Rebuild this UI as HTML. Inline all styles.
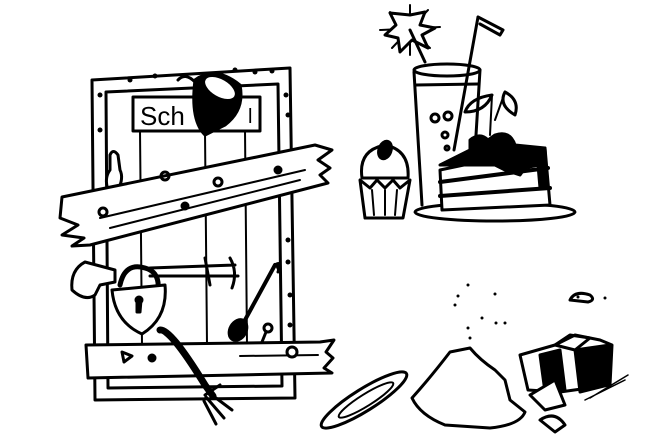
<!DOCTYPE html>
<html><head><meta charset="utf-8"><style>
html,body{margin:0;padding:0;background:#fff;width:660px;height:439px;overflow:hidden}
svg{display:block}
text{font-family:"Liberation Sans",sans-serif}
</style></head><body>
<svg width="660" height="439" viewBox="0 0 660 439" xmlns="http://www.w3.org/2000/svg" fill="none" stroke="#000" stroke-width="3" stroke-linejoin="round" stroke-linecap="round">
<!-- door frame -->
<path d="M92 80 L290 68 L295 398 L95 400 Z" fill="#fff"/>
<path d="M106 92 L278 84 L282 386 L108 388 Z"/>
<g fill="#000" stroke="none">
<circle cx="100" cy="95" r="2.5"/><circle cx="130" cy="80" r="2.5"/><circle cx="155" cy="76" r="2.5"/><circle cx="235" cy="70" r="2.5"/><circle cx="255" cy="72" r="2.5"/><circle cx="272" cy="71" r="2.5"/><circle cx="286" cy="95" r="2.5"/><circle cx="288" cy="115" r="2.5"/><circle cx="100" cy="130" r="2.5"/><circle cx="288" cy="240" r="2.5"/><circle cx="288" cy="262" r="2.5"/><circle cx="290" cy="295" r="2.5"/><circle cx="290" cy="325" r="2.5"/>
</g>
<path d="M140 130 L142 345 M205 132 L207 345 M245 130 L247 345" stroke-width="2"/>
<!-- sign -->
<rect x="133" y="97" width="127" height="34" fill="#fff"/>
<text x="140" y="125" font-size="26" fill="#000" stroke="none">Sch</text>
<text x="248" y="123" font-size="20" fill="#000" stroke="none">l</text>
<!-- cup -->
<path d="M178 80 Q185 72 195 82 L200 100" />
<path d="M195 80 Q215 65 240 85 Q245 110 225 125 L205 135 Q190 120 195 80 Z" fill="#000"/>
<ellipse cx="220" cy="88" rx="18" ry="10" transform="rotate(30 220 88)" fill="#fff"/>
<!-- keyhole plate -->
<path d="M110 155 Q113 148 118 155 L120 170 Q124 178 118 190 L108 190 Q104 178 110 170 Z" fill="#fff"/>
<!-- plank 1 -->
<path d="M62 197 L315 145 L332 150 L318 160 L330 168 L320 175 L328 183 L90 245 L72 246 L84 238 L62 235 L78 225 L60 218 Z" fill="#fff"/>
<path d="M100 218 L305 170 M110 228 L300 180" stroke-width="2"/>
<circle cx="103" cy="212" r="4"/><circle cx="218" cy="182" r="4"/><circle cx="278" cy="170" r="3" fill="#000"/><circle cx="185" cy="206" r="3" fill="#000"/><circle cx="165" cy="176" r="4"/>
<!-- hinge -->
<path d="M150 268 L235 265 M150 276 L238 276 M205 258 L210 285 M230 258 Q238 272 232 288"/>
<path d="M85 262 Q70 270 72 290 Q85 302 95 295 L100 285 L115 282 L115 270 Z" fill="#fff"/>
<!-- padlock -->
<path d="M120 285 Q125 262 145 268 Q160 272 158 290" stroke-width="5"/>
<path d="M112 290 L165 285 Q168 318 142 334 Q115 322 112 290 Z" fill="#fff"/>
<path d="M137 300 L141 300 L140 312 L137 312 Z" fill="#000"/>
<circle cx="139" cy="300" r="3" fill="#000"/>
<!-- spoon -->
<path d="M275 265 L245 320" stroke-width="4"/>
<path d="M275 265 Q282 260 278 272" fill="#000"/>
<ellipse cx="238" cy="330" rx="8" ry="11" transform="rotate(30 238 330)" fill="#000"/>
<circle cx="268" cy="328" r="4" fill="#fff"/>
<path d="M266 332 L258 352"/>
<!-- plank 2 -->
<path d="M86 345 L320 342 L334 340 L326 352 L333 358 L324 368 L332 373 L88 378 Z" fill="#fff"/>
<path d="M240 356 L318 355" stroke-width="2"/>
<circle cx="292" cy="352" r="5" fill="#fff"/><circle cx="152" cy="358" r="3" fill="#000"/>
<path d="M122 352 L132 356 L124 362 Z"/>
<!-- fork -->
<path d="M160 330 Q170 328 205 385 L213 396" stroke-width="7"/>
<path d="M205 395 L220 385 M208 392 L232 410 M206 397 L224 418 M204 401 L216 424" stroke-width="3"/>
<!-- flower -->
<path d="M380 30 L440 27 M410 5 L410 55 M390 12 L430 48 M428 10 L392 48" stroke-width="2"/>
<path d="M410 15 L425 12 L420 25 L435 28 L422 35 L428 48 L412 40 L400 52 L398 38 L385 35 L396 25 L390 13 Z" fill="#fff"/>
<path d="M410 30 L425 62"/>
<!-- glass -->
<ellipse cx="447" cy="70" rx="33" ry="6" fill="#fff"/>
<path d="M414 72 L422 205 M480 70 L472 200"/>
<path d="M416 85 L478 84"/>
<circle cx="435" cy="118" r="4"/><circle cx="448" cy="116" r="4"/><circle cx="445" cy="135" r="3"/><circle cx="447" cy="148" r="2"/>
<path d="M478 17 L454 150 M478 17 L503 30 L500 35 L480 24" />
<!-- leaves -->
<path d="M492 95 Q470 98 465 112 Q485 112 492 95 Z M505 92 Q520 100 515 115 Q498 105 505 92 Z"/>
<path d="M492 95 L490 135 M505 92 L495 120" stroke-width="2"/>
<!-- cake plate -->
<ellipse cx="495" cy="212" rx="80" ry="9" fill="#fff"/>
<!-- cake -->
<path d="M440 170 L545 148 L550 205 L442 210 Z" fill="#fff"/>
<path d="M440 182 L548 168 M440 196 L550 188" stroke-width="4"/>
<path d="M440 165 Q460 155 470 150 L470 140 Q480 132 488 140 L495 135 Q510 130 515 145 L545 148 L547 185 L540 188 L538 165 L525 168 L520 175 L505 170 L495 165 L480 165 Z" fill="#000"/>
<!-- cupcake -->
<path d="M362 178 Q358 150 385 145 Q410 150 408 178 Z" fill="#fff"/>
<ellipse cx="385" cy="150" rx="6" ry="9" transform="rotate(20 385 150)" fill="#000"/>
<path d="M360 180 L365 218 L403 218 L410 180 L400 188 L393 180 L385 188 L377 180 L370 188 Z" fill="#fff"/>
<path d="M372 190 L374 215 M385 190 L385 215 M397 190 L395 215" stroke-width="2"/>
<!-- small plate -->
<ellipse cx="364" cy="400" rx="50" ry="11" transform="rotate(-32 364 400)" fill="#fff"/>
<ellipse cx="366" cy="400" rx="32" ry="6" transform="rotate(-32 366 400)" stroke-width="2"/>
<!-- sand pile -->
<path d="M412 398 Q430 378 450 352 L470 348 Q480 360 495 370 L505 380 L510 400 L525 412 Q520 425 490 428 L445 425 Q420 415 412 398 Z" fill="#fff"/>
<g fill="#000" stroke="none">
<circle cx="468" cy="285" r="1.5"/><circle cx="458" cy="296" r="1.5"/><circle cx="495" cy="294" r="1.5"/><circle cx="455" cy="305" r="1.5"/><circle cx="482" cy="318" r="1.5"/><circle cx="496" cy="323" r="1.5"/><circle cx="505" cy="323" r="1.5"/><circle cx="468" cy="328" r="1.5"/><circle cx="470" cy="338" r="1.5"/><circle cx="578" cy="297" r="1.5"/><circle cx="605" cy="298" r="1.5"/>
</g>
<!-- rock -->
<path d="M570 300 Q575 290 590 295 Q596 300 588 302 Z"/>
<!-- box -->
<path d="M520 355 L555 345 L575 335 L600 340 L612 345 L610 385 L560 392 L528 390 Z" fill="#fff"/>
<path d="M540 355 L560 350 L565 390 L545 392 Z" fill="#000"/>
<path d="M575 350 L610 345 L608 385 L580 392 Z" fill="#000"/>
<path d="M555 345 L570 335 L590 338 L575 350 Z"/>
<path d="M530 395 L555 380 L565 405 L545 410 Z" fill="#fff"/>
<path d="M540 420 Q555 410 565 425 L555 432 Z"/>
<path d="M585 400 L625 380 M590 398 L628 375" stroke-width="1.5"/>
</svg>
</body></html>
